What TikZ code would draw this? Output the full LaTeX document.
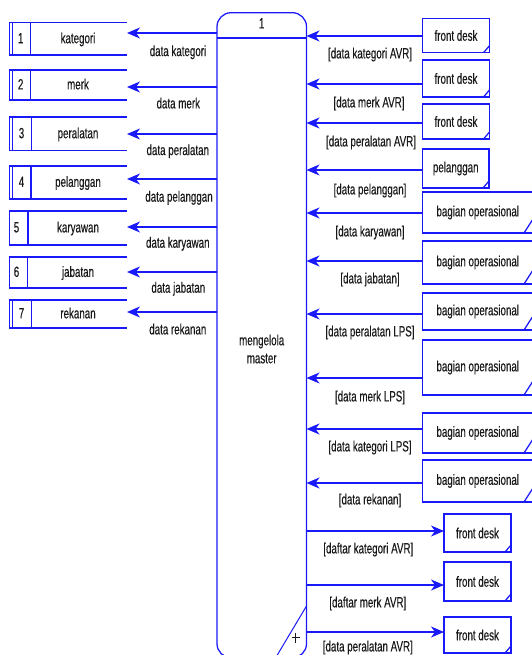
\documentclass[tikz,border=0pt]{standalone}
\usepackage{fontspec}
\setmainfont[FakeStretch=0.66,FakeBold=0.3]{Liberation Sans}
\usetikzlibrary{arrows.meta}
\definecolor{dfblue}{RGB}{25,25,250}
\definecolor{dftext}{RGB}{25,25,25}
\newcommand\dffont{\fontsize{14.8}{18}\selectfont}
% store: id, top, bottom, double(1/0), divider x, number x, number, name
\newcommand\dfstore[8]{%
  \node[area, minimum width=117.5pt, minimum height={#3-#2}] (#1) at (9.5,#2) {};
  \draw[sline] (#1.north east) -- (#1.north west) -- (#1.south west) -- (#1.south east);
  \draw[sline] (#1.north west -| #5,0) -- (#1.south west -| #5,0);
  \ifnum#4=1 \draw[sline] (#1.north west -| 12.5,0) -- (#1.south west -| 12.5,0);\fi
  \node[lbl] (#1num) at (#6,{(#2+#3)/2}) {#7};
  \node[lbl] (#1name) at (78,{(#2+#3)/2}) {#8};
}
% entity: id, left, top, right, bottom, text, diag dy, diag dx
\newcommand\dfent[8]{%
  \node[ent, minimum width={#4-#2}, minimum height={#5-#3}] (#1) at (#2,#3) {#6};
  \draw[sline] ([yshift=#7pt]#1.south east) -- ([xshift=-#8pt]#1.south east);
}
\begin{document}
\begin{tikzpicture}[x=1pt,y=-1pt,
  sline/.style={draw=dfblue,line width=1.25pt},
  flow/.style={draw=dfblue,line width=1.25pt,-{Stealth[length=13pt,width=11pt,inset=4pt]}},
  lbl/.style={text=dftext,font=\dffont,inner sep=0pt,text height=0.72em,text depth=0.2em,yshift=-1.8pt},
  area/.style={inner sep=0pt,outer sep=0pt,anchor=north west},
  ent/.style={sline,text=dftext,font=\dffont,inner sep=0pt,outer sep=0pt,anchor=north west}]
\useasboundingbox (0,0) rectangle (531,655);

% process
\node[sline, rounded corners=14pt, area, minimum width=89.5pt, minimum height=645pt] (proc) at (217,12.7) {};
\draw[sline] (proc.west |- 0,38) -- (proc.east |- 0,38);
\node[lbl] (pid) at (261.7,24) {1};
\node[text=dftext, font=\dffont, inner sep=0pt, align=center] (pname) at (261.7,349) {mengelola\\master};
\draw[draw=dfblue, line width=1pt] (proc.east |- 0,606) -- (275.5,658);
\draw[dftext, line width=0.8pt] (291.5,637.7) -- (299.5,637.7) (295.5,632.5) -- (295.5,643);

% stores
\dfstore{s1}{22.7}{55}{1}{30.7}{20.7}{1}{kategori}
\dfstore{s2}{70}{100}{1}{30.7}{20.7}{2}{merk}
\dfstore{s3}{117}{150.7}{1}{31.5}{21.5}{3}{peralatan}
\dfstore{s4}{166}{199}{1}{31}{21.5}{4}{pelanggan}
\dfstore{s5}{211}{245}{0}{28}{16.5}{5}{karyawan}
\dfstore{s6}{257}{288}{0}{27.5}{16.5}{6}{jabatan}
\dfstore{s7}{300}{328}{1}{31.5}{21.5}{7}{rekanan}

\draw[flow] (proc.west |- 0,33) -- (s1.east |- 0,33);
\draw[flow] (proc.west |- 0,87) -- (s2.east |- 0,87);
\draw[flow] (proc.west |- 0,134) -- (s3.east |- 0,134);
\draw[flow] (proc.west |- 0,179) -- (s4.east |- 0,179);
\draw[flow] (proc.west |- 0,227) -- (s5.east |- 0,227);
\draw[flow] (proc.west |- 0,272) -- (s6.east |- 0,272);
\draw[flow] (proc.west |- 0,312) -- (s7.east |- 0,312);

\node[lbl] (l1) at (178,51.7) {data kategori};
\node[lbl] (l2) at (178.3,104) {data merk};
\node[lbl] (l3) at (177.8,150.7) {data peralatan};
\node[lbl] (l4) at (179,197.3) {data pelanggan};
\node[lbl] (l5) at (177.8,243.3) {data karyawan};
\node[lbl] (l6) at (178.3,288.3) {data jabatan};
\node[lbl] (l7) at (177.8,330) {data rekanan};

% entities (inputs)
\dfent{e1}{422.5}{18.3}{489.5}{52.7}{front desk}{7}{6}
\dfent{e2}{422.5}{60}{489.5}{97}{front desk}{7}{6}
\dfent{e3}{422.5}{104}{489.5}{139}{front desk}{7}{6}
\dfent{e4}{422.5}{149}{489}{188}{pelanggan}{7}{6}
\dfent{e5}{422.5}{192}{533}{233}{bagian operasional}{14}{9}
\dfent{e6}{422.5}{241}{533}{284}{bagian operasional}{14}{9}
\dfent{e7}{422.5}{293}{533}{330}{bagian operasional}{14}{9}
\dfent{e8}{422.5}{340}{533}{395}{bagian operasional}{14}{9}
\dfent{e9}{422.5}{413}{533}{453}{bagian operasional}{14}{9}
\dfent{e10}{422.5}{460}{533}{502}{bagian operasional}{14}{9}

\draw[flow] (e1.west |- 0,36) -- (proc.east |- 0,36);
\draw[flow] (e2.west |- 0,84) -- (proc.east |- 0,84);
\draw[flow] (e3.west |- 0,123) -- (proc.east |- 0,123);
\draw[flow] (e4.west |- 0,170) -- (proc.east |- 0,170);
\draw[flow] (e5.west |- 0,213) -- (proc.east |- 0,213);
\draw[flow] (e6.west |- 0,261) -- (proc.east |- 0,261);
\draw[flow] (e7.west |- 0,314) -- (proc.east |- 0,314);
\draw[flow] (e8.west |- 0,378) -- (proc.east |- 0,378);
\draw[flow] (e9.west |- 0,429) -- (proc.east |- 0,429);
\draw[flow] (e10.west |- 0,483) -- (proc.east |- 0,483);

\node[lbl] (r1) at (370,54) {[data kategori AVR]};
\node[lbl] (r2) at (369,103) {[data merk AVR]};
\node[lbl] (r3) at (371,142) {[data peralatan AVR]};
\node[lbl] (r4) at (370,190) {[data pelanggan]};
\node[lbl] (r5) at (370,232) {[data karyawan]};
\node[lbl] (r6) at (370,279) {[data jabatan]};
\node[lbl] (r7) at (370,332) {[data peralatan LPS]};
\node[lbl] (r8) at (370,397) {[data merk LPS]};
\node[lbl] (r9) at (370,447) {[data kategori LPS]};
\node[lbl] (r10) at (370,500) {[data rekanan]};

% entities (outputs)
\dfent{o1}{444}{514}{511}{552}{front desk}{7}{6}
\dfent{o2}{444}{562}{511}{601}{front desk}{7}{6}
\dfent{o3}{444}{617}{511}{653}{front desk}{7}{6}

\draw[flow] (proc.east |- 0,531) -- (o1.west |- 0,531);
\draw[flow] (proc.east |- 0,585) -- (o2.west |- 0,585);
\draw[flow] (proc.east |- 0,632) -- (o3.west |- 0,632);

\node[lbl] (q1) at (368.3,549) {[daftar kategori AVR]};
\node[lbl] (q2) at (367.8,603) {[daftar merk AVR]};
\node[lbl] (q3) at (367.8,647) {[data peralatan AVR]};
\end{tikzpicture}
\end{document}
